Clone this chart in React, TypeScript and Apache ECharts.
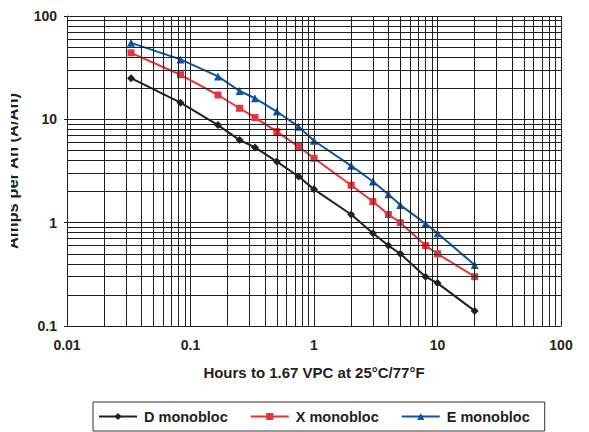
import React, { useEffect, useRef } from "react";
import * as echarts from "echarts";

const hours = [0.033, 0.083, 0.167, 0.25, 0.333, 0.5, 0.75, 1, 2, 3, 4, 5, 8, 10, 20];
const dMonobloc = [25, 14.5, 8.8, 6.3, 5.35, 3.9, 2.8, 2.1, 1.2, 0.79, 0.6, 0.5, 0.3, 0.26, 0.14];
const xMonobloc = [44, 27, 17.2, 12.8, 10.4, 7.6, 5.45, 4.2, 2.3, 1.6, 1.2, 1.0, 0.6, 0.5, 0.3];
const eMonobloc = [55, 38, 26, 18.8, 16, 11.9, 8.5, 6.2, 3.55, 2.5, 1.88, 1.48, 0.98, 0.79, 0.39];

const seriesNames = ["D monobloc", "X monobloc", "E monobloc"];
const minorXGrid = [
  0.02, 0.03, 0.04, 0.05, 0.06, 0.07, 0.08, 0.09,
  0.2, 0.3, 0.4, 0.5, 0.6, 0.7, 0.8, 0.9,
  2, 3, 4, 5, 6, 7, 8, 9,
  20, 30, 40, 50, 60, 70, 80, 90,
];
const minorYGrid = [
  0.2, 0.3, 0.4, 0.5, 0.6, 0.7, 0.8, 0.9,
  2, 3, 4, 5, 6, 7, 8, 9,
  20, 30, 40, 50, 60, 70, 80, 90,
];

const FONT = "'Liberation Sans', Arial, Helvetica, sans-serif";
const GRID_COLOR = "#1f1f1f";

export default function App() {
  const ref = useRef<HTMLDivElement>(null);
  useEffect(() => {
    document.body.style.margin = "0";
    if (!ref.current) return;
    const chart = echarts.init(ref.current, undefined, { renderer: "svg" });
    const pair = (vals: number[]) => hours.map((h, i) => [h, vals[i]]);
    const gridLineData = [
      ...minorXGrid.map((v) => ({ xAxis: v })),
      ...minorYGrid.map((v) => ({ yAxis: v })),
    ];
    chart.setOption({
      animation: false,
      backgroundColor: "#ffffff",
      grid: { left: 67, right: 28, top: 16, bottom: 106, containLabel: false, outerBoundsMode: "none" },
      xAxis: {
        type: "log",
        min: 0.01,
        max: 100,
        logBase: 10,
        name: "Hours to 1.67 VPC at 25°C/77°F",
        nameLocation: "middle",
        nameGap: 39,
        nameTextStyle: { fontFamily: FONT, fontWeight: "bold", fontSize: 15, color: "#231f20" },
        axisLine: { show: true, lineStyle: { color: GRID_COLOR, width: 1 } },
        axisTick: { show: false },
        axisLabel: { fontFamily: FONT, fontWeight: "bold", fontSize: 14, color: "#231f20", margin: 12 },
        splitLine: { show: true, lineStyle: { color: GRID_COLOR, width: 1 } },
      },
      yAxis: {
        type: "log",
        min: 0.1,
        max: 100,
        logBase: 10,
        name: "Amps per Ah (A/Ah)",
        nameLocation: "middle",
        nameRotate: 90,
        nameGap: 47,
        nameTextStyle: { fontFamily: FONT, fontWeight: "bold", fontSize: 16.5, color: "#231f20" },
        axisLine: { show: true, lineStyle: { color: GRID_COLOR, width: 1 } },
        axisTick: { show: true, length: 3, lineStyle: { color: GRID_COLOR } },
        axisLabel: { fontFamily: FONT, fontWeight: "bold", fontSize: 14, color: "#231f20", margin: 10 },
        splitLine: { show: true, lineStyle: { color: GRID_COLOR, width: 1 } },
      },
      graphic: [
        {
          type: "rect",
          left: 0,
          top: 0,
          z: 100,
          shape: { width: 11, height: 330 },
          style: { fill: "#ffffff" },
          silent: true,
        },
      ],
      legend: {
        data: seriesNames,
        left: 93,
        top: 402,
        orient: "horizontal",
        borderColor: "#333333",
        borderWidth: 1,
        padding: [7, 15, 7, 5],
        itemGap: 22,
        itemWidth: 38,
        itemHeight: 9,
        textStyle: { fontFamily: FONT, fontWeight: "bold", fontSize: 14.5, color: "#231f20", padding: [0, 0, 0, 2] },
      },
      series: [
        {
          type: "line",
          data: [],
          silent: true,
          z: 1,
          markLine: {
            silent: true,
            symbol: ["none", "none"],
            label: { show: false },
            lineStyle: { color: GRID_COLOR, width: 1, type: "solid" },
            emphasis: { disabled: true },
            data: gridLineData,
          },
        },
        {
          name: seriesNames[0],
          type: "line",
          data: pair(dMonobloc),
          z: 3,
          symbol: "diamond",
          symbolSize: 8,
          color: "#231f20",
          lineStyle: { width: 2, color: "#231f20" },
          itemStyle: { color: "#231f20" },
        },
        {
          name: seriesNames[1],
          type: "line",
          data: pair(xMonobloc),
          z: 3,
          symbol: "rect",
          symbolSize: 7,
          color: "#e6333d",
          lineStyle: { width: 2, color: "#e6333d" },
          itemStyle: { color: "#e6333d" },
        },
        {
          name: seriesNames[2],
          type: "line",
          data: pair(eMonobloc),
          z: 3,
          symbol: "triangle",
          symbolSize: 8,
          color: "#0b56a4",
          lineStyle: { width: 2, color: "#0b56a4" },
          itemStyle: { color: "#0b56a4" },
        },
      ],
    });
    return () => chart.dispose();
  }, []);
  return <div ref={ref} style={{ width: 589, height: 432 }} />;
}
